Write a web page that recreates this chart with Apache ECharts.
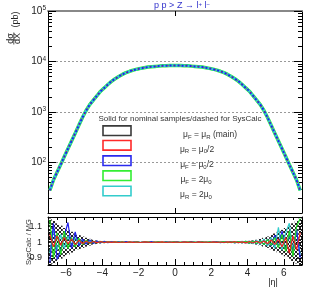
<!DOCTYPE html>
<html><head><meta charset="utf-8">
<script src="https://cdn.jsdelivr.net/npm/echarts@6/dist/echarts.min.js"></script>
<style>html,body{margin:0;padding:0;background:#fff}#c{width:318px;height:291px}</style>
</head><body><div id="c"></div>
<script>
// ---------- data ----------
const etaBins = [-6.9,-6.7,-6.5,-6.3,-6.1,-5.9,-5.7,-5.5,-5.3,-5.1,-4.9,-4.7,-4.5,-4.3,-4.1,-3.9,-3.7,-3.5,-3.3,-3.1,
  -2.9,-2.7,-2.5,-2.3,-2.1,-1.9,-1.7,-1.5,-1.3,-1.1,-0.9,-0.7,-0.5,-0.3,-0.1,0.1,0.3,0.5,0.7,0.9,
  1.1,1.3,1.5,1.7,1.9,2.1,2.3,2.5,2.7,2.9,3.1,3.3,3.5,3.7,3.9,4.1,4.3,4.5,4.7,4.9,
  5.1,5.3,5.5,5.7,5.9,6.1,6.3,6.5,6.7,6.9];
const etaBinWidth = 0.2;
const xsecMain = [28,45,64,91,131,187,267,381,545,780,1070,1400,1720,2100,2580,3000,3500,4050,4550,5050,
  5550,6000,6400,6750,7050,7300,7550,7750,7900,8000,8100,8200,8250,8300,8300,8300,8300,8250,8200,8100,
  8000,7900,7750,7550,7300,7050,6750,6400,6000,5550,5050,4550,4050,3500,3000,2580,2100,1720,1400,1070,
  780,545,381,267,187,131,91,64,45,28];
const bandHalf = [0.15,0.135,0.12,0.105,0.09,0.078,0.066,0.055,0.045,0.036,0.028,0.021,0.015,0.011,0.008,
  0.006,0.005,0.005,0.004,0.004,0.004,0.004,0.003,0.003,0.003,0.003,0.003,0.003,0.003,0.003,
  0.003,0.003,0.003,0.003,0.003,0.003,0.003,0.003,0.003,0.003,0.003,0.003,0.003,0.003,0.003,
  0.003,0.003,0.003,0.004,0.004,0.004,0.004,0.005,0.005,0.006,
  0.008,0.011,0.015,0.021,0.028,0.036,0.045,0.055,0.066,0.078,0.09,0.105,0.12,0.135,0.15];
const ratioRed = [1.05,0.97,1.04,0.98,1.03,0.99,1.02,0.985,1.012,0.992,
  1.006,0.995,1.004,0.997,1.003,0.998,1.002,0.999,1.002,0.998,
  1.001,0.998,1.002,0.999,1.001,0.998,1.002,1.000,0.998,1.001,
  0.999,1.002,0.998,1.001,0.999,1.001,0.998,1.002,0.999,1.001,
  0.998,1.002,0.999,1.001,0.998,1.002,0.999,1.001,0.998,1.002,
  0.999,1.003,0.997,1.002,0.996,1.004,0.995,1.006,0.993,1.008,
  0.99,1.015,0.985,1.02,0.97,1.03,0.93,1.04,0.95,1.06];
const ratioBlue = [0.87,1.12,0.89,0.95,1.04,1.125,0.96,1.065,0.975,1.02,
  0.988,1.015,0.992,1.008,0.996,1.005,0.997,1.003,0.998,1.002,
  0.999,1.003,0.998,1.001,1.002,0.998,1.001,0.999,1.003,0.998,
  1.001,0.998,1.002,0.999,1.001,1.002,0.998,1.001,0.999,1.003,
  0.998,1.001,1.002,0.998,1.001,0.999,1.003,0.997,1.002,0.998,
  1.003,0.996,1.004,0.995,1.006,0.993,1.008,0.99,1.012,0.985,
  1.02,0.975,1.045,0.97,1.07,0.95,1.05,0.94,1.08,0.9];
const ratioGreen = [1.14,0.9,1.06,0.92,1.07,0.96,1.03,0.97,1.025,0.985,
  1.012,0.992,1.006,0.996,1.004,0.997,1.003,0.998,1.002,0.999,
  1.002,0.998,1.001,0.999,1.002,0.998,1.001,1.002,0.998,1.000,
  1.002,0.999,1.001,0.998,1.002,0.999,1.001,0.998,1.002,0.999,
  1.001,0.998,1.002,0.999,1.002,0.998,1.001,0.999,1.003,0.997,
  1.002,0.997,1.004,0.996,1.005,0.994,1.007,0.991,1.01,0.985,
  1.018,0.98,1.03,0.965,1.05,0.94,1.07,0.91,1.1,1.15];
const ratioCyan = [0.93,1.08,0.95,1.05,0.96,1.04,0.975,1.03,0.99,1.015,
  0.993,1.008,0.995,1.005,0.997,1.003,0.998,1.002,0.999,1.002,
  0.998,1.001,1.002,0.998,1.001,0.999,1.002,0.998,1.001,0.999,
  1.002,0.998,1.001,1.002,0.998,1.001,0.999,1.002,0.998,1.001,
  0.999,1.002,0.998,1.001,0.999,1.002,0.998,1.002,0.997,1.003,
  0.997,1.004,0.996,1.006,0.994,1.008,0.99,1.012,0.985,1.02,
  0.975,1.03,0.96,1.094,0.95,1.06,1.12,0.93,1.08,0.92];
const logMinorTicks = [20,30,40,50,60,70,80,90,200,300,400,500,600,700,800,900,
  2000,3000,4000,5000,6000,7000,8000,9000,20000,30000,40000,50000,60000,70000,80000,90000];
const ratioMajorTicks = [0.9,1,1.1];
const ratioMinorTicks = [0.86,0.88,0.92,0.94,0.96,0.98,1.02,1.04,1.06,1.08,1.12,1.14];
const etaMajorTicks = [-6,-4,-2,0,2,4,6];
const etaMinorTicks = [-6.5,-5.5,-5,-4.5,-3.5,-3,-2.5,-1.5,-1,-0.5,0.5,1,1.5,2.5,3,3.5,4.5,5,5.5,6.5];
const etaTopTicks = [0];
const legendTitle = 'Solid for nominal samples/dashed for SysCalc';
const legendLabels = ['{m|μ}{s|F}{m| = μ}{s|R}{m| (main)}','{m|μ}{s|R}{m| = μ}{s|0}{m|/2}',
  '{m|μ}{s|F}{m| = μ}{s|0}{m|/2}','{m|μ}{s|F}{m| = 2μ}{s|0}','{m|μ}{s|R}{m| = 2μ}{s|0}'];
const legendColors = ['#3a3a3a','#ff2a2a','#2a2aee','#33ee33','#33cccc'];

// ---------- helpers ----------
const FF = 'Liberation Sans, Arial, Helvetica, sans-serif';
const pairs = (ys) => etaBins.map((x, i) => [x, ys[i]]);
const pc = document.createElement('canvas'); pc.width = 4; pc.height = 4;
const g = pc.getContext('2d'); g.strokeStyle = '#222'; g.lineWidth = 1;
g.beginPath(); g.moveTo(0,0); g.lineTo(4,4); g.moveTo(4,0); g.lineTo(0,4); g.stroke();
const hatch = {image: pc, repeat: 'repeat'};

function xA(grid, pos, ticks, len, line, extra) {
  return Object.assign({type:'value', gridIndex:grid, position:pos, min:-7, max:7,
    axisLine: line ? {show:true, onZero:false, lineStyle: line} : {show:false, onZero:false},
    axisTick: {show:true, inside:true, length:len, customValues:ticks, lineStyle:{color:'#000', width:1}},
    axisLabel: {show:false}, splitLine: {show:false}}, extra || {});
}
function yA(grid, pos, type, min, max, ticks, len, line, extra) {
  const a = {type:type, gridIndex:grid, position:pos, min:min, max:max,
    axisLine: line ? {show:true, onZero:false, lineStyle: line} : {show:false, onZero:false},
    axisTick: {show:true, inside:true, length:len, lineStyle:{color:'#000', width:1}},
    axisLabel: {show:false}, splitLine: {show:false}};
  if (type === 'log') a.logBase = 10;
  if (ticks) a.axisTick.customValues = ticks;
  return Object.assign(a, extra || {});
}
const blk = {color:'#000', width:1};

const legendGraphics = [];
const boxY = [130.7,145.3,160.7,175.7,191];
const labX = [210,197,197,196,196];
legendColors.forEach((c, i) => {
  legendGraphics.push({type:'rect', shape:{x:103, y:boxY[i]-4.8, width:28, height:9.6},
    style:{fill:'#fff', stroke:c, lineWidth:1.6}});
  legendGraphics.push({type:'text', x:labX[i], y:boxY[i]+4, style:{text:legendLabels[i], align:'center',
    verticalAlign:'middle', rich:{m:{fontSize:8.5, fontFamily:FF, fill:'#333', lineHeight:11},
    s:{fontSize:6, fontFamily:FF, fill:'#333', lineHeight:11, verticalAlign:'bottom'}}}});
});

function bandItem(params, api) {
  const x = api.value(0), lo = api.value(1), hi = api.value(2), hw = etaBinWidth / 2;
  const p1 = api.coord([x - hw, hi]), p2 = api.coord([x + hw, lo]);
  const cs = params.coordSys;
  const rect = echarts.graphic.clipRectByRect(
    {x: p1[0], y: p1[1], width: p2[0] - p1[0], height: p2[1] - p1[1]},
    {x: cs.x, y: cs.y, width: cs.width, height: cs.height});
  return rect && {type:'rect', shape: rect, style: {fill: hatch}};
}

const option = {
  animation: false,
  backgroundColor: '#fff',
  grid: [
    {left:48, top:11, width:254, height:202, outerBoundsMode:'none', containLabel:false},
    {left:48, top:217, width:254, height:48, outerBoundsMode:'none', containLabel:false}
  ],
  xAxis: [
    xA(0,'bottom',etaTopTicks,5,blk),
    xA(0,'top',etaTopTicks,5,{color:'#888', width:2}),
    xA(1,'bottom',etaMajorTicks,6,blk,{axisLabel:{show:true, customValues:etaMajorTicks, margin:3,
      fontSize:10, fontFamily:FF, color:'#222', formatter:(v)=>String(v).replace('-','\u2212')}}),
    xA(1,'bottom',etaMinorTicks,3,null),
    xA(1,'top',etaMajorTicks,6,blk),
    xA(1,'top',etaMinorTicks,3,null)
  ],
  yAxis: [
    yA(0,'left','log',10,100000,null,8,blk,{
      axisLabel:{show:true, margin:2, formatter:(v)=>{const e=Math.round(Math.log10(v)); return e===1?'':'{b|10}{s|'+e+'}';},
        rich:{b:{fontSize:10, fontFamily:FF, color:'#222', lineHeight:12}, s:{fontSize:6.5, fontFamily:FF, color:'#222', lineHeight:12, verticalAlign:'top'}}},
      splitLine:{show:true, lineStyle:{color:'#999', type:[2,2], width:1}}}),
    yA(0,'left','log',10,100000,logMinorTicks,4,null),
    yA(0,'right','log',10,100000,null,8,blk),
    yA(0,'right','log',10,100000,logMinorTicks,4,null),
    yA(1,'left','value',0.855,1.16,ratioMajorTicks,6,blk,{
      axisLabel:{show:true, customValues:ratioMajorTicks, margin:6, fontSize:9, fontFamily:FF, color:'#222'}}),
    yA(1,'left','value',0.855,1.16,ratioMinorTicks,3,null),
    yA(1,'right','value',0.855,1.16,ratioMajorTicks,6,blk),
    yA(1,'right','value',0.855,1.16,ratioMinorTicks,3,null)
  ],
  series: [
    {type:'line', xAxisIndex:0, yAxisIndex:0, data:pairs(xsecMain), symbol:'none', lineStyle:{color:'#33ee33', width:3.5}},
    {type:'line', xAxisIndex:0, yAxisIndex:0, data:pairs(xsecMain), symbol:'none', lineStyle:{color:'#33cccc', width:2.5}},
    {type:'line', xAxisIndex:0, yAxisIndex:0, data:pairs(xsecMain), symbol:'none', lineStyle:{color:'#2222ee', width:2, type:[2,2]}},
    {type:'line', xAxisIndex:0, yAxisIndex:0, data:pairs(xsecMain), symbol:'none', lineStyle:{color:'#cc2222', width:1, type:[1,5]}},
    {type:'custom', xAxisIndex:2, yAxisIndex:4, renderItem: bandItem,
      data: etaBins.map((x, i) => [x, 1 - bandHalf[i], 1 + bandHalf[i]])},
    {type:'line', xAxisIndex:2, yAxisIndex:4, data:pairs(ratioCyan), symbol:'none', lineStyle:{color:'#33cccc', width:1.2}},
    {type:'line', xAxisIndex:2, yAxisIndex:4, data:pairs(ratioBlue), symbol:'none', lineStyle:{color:'#2222ee', width:1.2}},
    {type:'line', xAxisIndex:2, yAxisIndex:4, data:pairs(ratioGreen), symbol:'none', lineStyle:{color:'#22dd22', width:1.2}},
    {type:'line', xAxisIndex:2, yAxisIndex:4, data:pairs(ratioRed), symbol:'none', lineStyle:{color:'#ee2222', width:1.2}}
  ],
  graphic: [
    {type:'text', x:182, y:6, style:{text:'p p > Z \u2192 l{p|+} l{p|\u2212}', align:'center', verticalAlign:'middle',
      fontSize:9, fontFamily:FF, fill:'#3333cc', rich:{p:{fontSize:6, fontFamily:FF, fill:'#3333cc', verticalAlign:'top'}}}},
    {type:'text', x:15.5, y:19.5, rotation:Math.PI/2, style:{text:'(pb)', align:'center', verticalAlign:'middle', fontSize:9, fontFamily:FF, fill:'#222'}},
    {type:'text', x:10.3, y:38.5, rotation:Math.PI/2, style:{text:'d\u03c3', align:'center', verticalAlign:'middle', fontSize:9, fontFamily:FF, fill:'#222'}},
    {type:'text', x:17.3, y:38.5, rotation:Math.PI/2, style:{text:'dX', align:'center', verticalAlign:'middle', fontSize:9, fontFamily:FF, fill:'#222'}},
    {type:'line', shape:{x1:13.8, y1:32.5, x2:13.8, y2:44.5}, style:{stroke:'#222', lineWidth:0.8}},
    {type:'text', x:29, y:242, rotation:Math.PI/2, style:{text:'SysCalc / MG', align:'center', verticalAlign:'middle', fontSize:7.5, fontFamily:FF, fill:'#333'}},
    {type:'text', x:273, y:283, style:{text:'|\u03b7|', align:'center', verticalAlign:'middle', fontSize:9, fontFamily:FF, fill:'#222'}},
    {type:'text', x:180, y:119, style:{text:legendTitle, align:'center', verticalAlign:'middle', fontSize:8, fontFamily:FF, fill:'#333'}}
  ].concat(legendGraphics)
};
const chart = echarts.init(document.getElementById('c'));
chart.setOption(option);
</script></body></html>
